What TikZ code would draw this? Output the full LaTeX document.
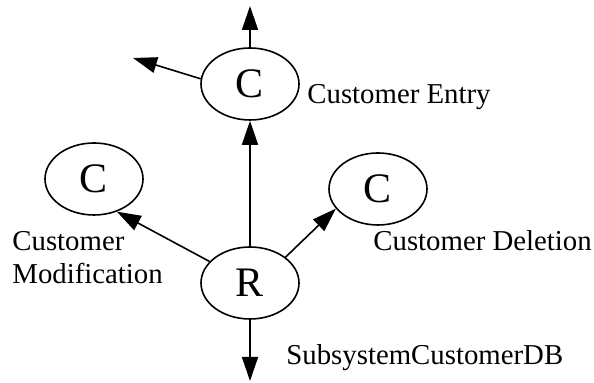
\documentclass[tikz,border=0pt]{standalone}
\usepackage{fontspec}
\setmainfont{Liberation Serif}
\usetikzlibrary{arrows.meta,positioning,shapes.geometric}

\begin{document}
\begin{tikzpicture}[
  x=0.5pt, y=-0.5pt,
  proc/.style={draw, ellipse, line width=0.8pt, inner sep=0pt, minimum width=49pt, minimum height=36pt, font=\fontsize{21}{24}\selectfont},
  lbl/.style={anchor=base west, inner sep=0pt, align=left, font=\fontsize{14.4}{16.5}\selectfont},
  flow/.style={-{Triangle[length=12pt,width=8pt]}, line width=0.8pt}
]
  \useasboundingbox (0,0) rectangle (594,383);

  \node[proc] (entry) at (250,84) {C};
  \node[proc] (modif) at (94,179) {C};
  \node[proc] (delet) at (378,189) {C};
  \node[proc] (root) at (250,283) {R};

  \coordinate (entryup) at (250,6);
  \coordinate (entryout) at (133,58);
  \coordinate (dbout) at (250,381);

  \node[lbl] (entrylbl) at (307,104) {Customer Entry};
  \node[lbl] (modiflbl) at (12,284) {Customer\\Modification};
  \node[lbl] (deletlbl) at (373,251) {Customer Deletion};
  \node[lbl] (dblbl) at (286,365) {SubsystemCustomerDB};

  \draw[flow] (entry) -- (entryup);
  \draw[flow] (entry.174) -- (entryout);
  \draw[flow] (root) -- (entry);
  \draw[flow] (root.152) -- (modif.-55);
  \draw[flow] (root.36) -- (delet.205);
  \draw[flow] (root) -- (dbout);
\end{tikzpicture}
\end{document}
